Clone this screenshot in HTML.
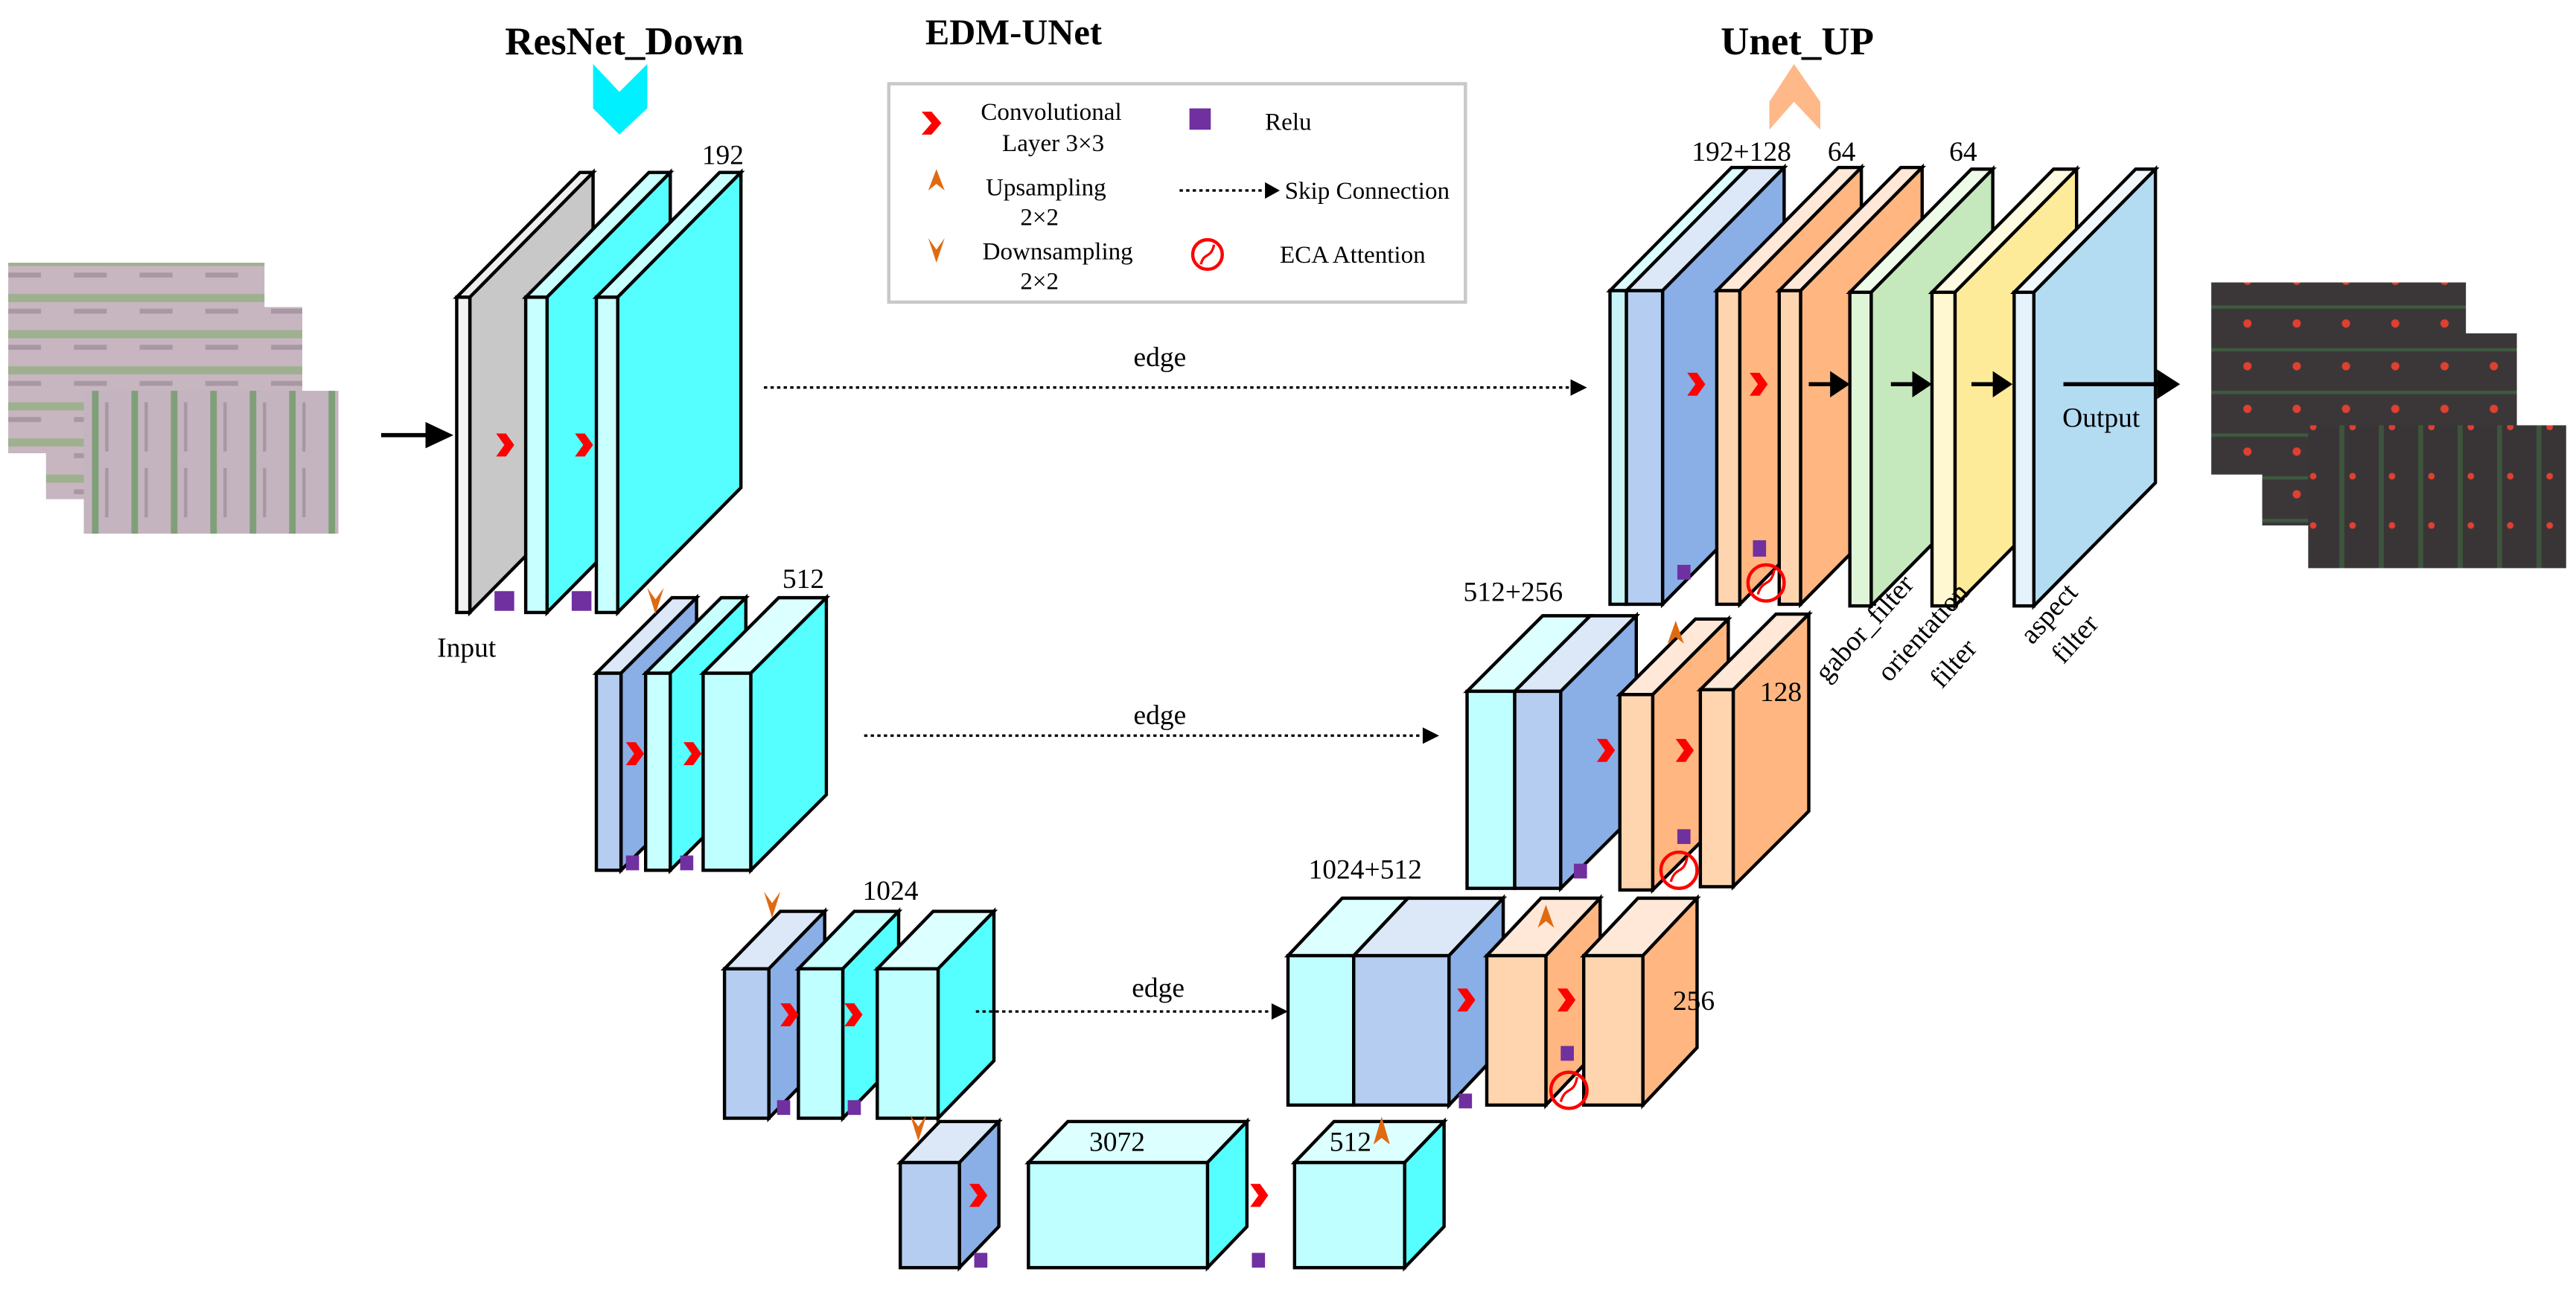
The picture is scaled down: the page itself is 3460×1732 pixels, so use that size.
<!DOCTYPE html>
<html><head><meta charset="utf-8"><style>html,body{margin:0;padding:0;background:#fff}svg{display:block}</style></head>
<body>
<svg width="3460" height="1732" viewBox="0 0 1568 785" preserveAspectRatio="none" xmlns="http://www.w3.org/2000/svg" font-family="'Liberation Serif', serif">
<defs>
<pattern id="field" width="40" height="22" patternUnits="userSpaceOnUse">
<rect width="40" height="22" fill="#c7b6c0"/>
<rect x="0" y="3" width="40" height="5" fill="#8fae7e" opacity="0.7"/>
<rect x="5" y="12" width="20" height="3" fill="#a898a4"/>
</pattern>
<pattern id="field2" width="24" height="40" patternUnits="userSpaceOnUse">
<rect width="24" height="40" fill="#c4b4bf"/>
<rect x="8" y="0" width="4" height="40" fill="#6e9a66" opacity="0.8"/>
<rect x="16" y="5" width="2" height="30" fill="#a797a2"/>
</pattern>
<pattern id="dark" width="30" height="26" patternUnits="userSpaceOnUse">
<rect width="30" height="26" fill="#3b3739"/>
<rect x="0" y="4" width="30" height="2" fill="#3f5a3f"/>
<circle cx="18" cy="15" r="2.5" fill="#e04030"/>
</pattern>
<pattern id="dark2" width="24" height="30" patternUnits="userSpaceOnUse">
<rect width="24" height="30" fill="#393537"/>
<rect x="8" y="0" width="3" height="30" fill="#3d553c"/>
<circle cx="16" cy="20" r="2" fill="#e04030"/>
</pattern>
</defs>

<!-- titles -->
<text x="380" y="33" font-size="24" font-weight="bold" text-anchor="middle">ResNet_Down</text>
<text x="617" y="27" font-size="22" font-weight="bold" text-anchor="middle">EDM-UNet</text>
<text x="1094" y="33" font-size="24" font-weight="bold" text-anchor="middle">Unet_UP</text>
<polygon points="361,39 377,56 394,39 394,66 377,82 361,66" fill="#00f0ff"/>
<polygon points="1092,39 1108,62 1108,79 1092,62 1077,79 1077,62" fill="#ffb888"/>

<!-- legend -->
<rect x="541" y="51" width="351" height="133" fill="#fff" stroke="#c8c8c8" stroke-width="2"/>
<g font-size="15">
<polygon points="561,68 567,68 573,75 567,82 561,82 567,75" fill="#f00"/>
<text x="597" y="73">Convolutional</text><text x="610" y="92">Layer 3×3</text>
<rect x="724" y="66" width="13" height="13" fill="#7030a0"/>
<text x="770" y="79">Relu</text>
<polygon points="570,103 575,116 570,112 565,116" fill="#e06a10"/>
<text x="600" y="119">Upsampling</text><text x="621" y="137">2×2</text>
<line x1="718" y1="116" x2="770" y2="116" stroke="#000" stroke-width="1.5" stroke-dasharray="2,2"/>
<polygon points="770,111 779,116 770,121" fill="#000"/>
<text x="782" y="121">Skip Connection</text>
<polygon points="565,145 570,152 575,145 570,160" fill="#e06a10"/>
<text x="598" y="158">Downsampling</text><text x="621" y="176">2×2</text>
<circle cx="735" cy="155" r="9" fill="none" stroke="#f00" stroke-width="2"/>
<path d="M731,161 C733,153 737,158 739,149" fill="none" stroke="#f00" stroke-width="1.5"/>
<text x="779" y="160">ECA Attention</text>
</g>

<!-- input images -->
<rect x="5" y="160" width="156" height="116" fill="url(#field)"/>
<rect x="28" y="187" width="156" height="117" fill="url(#field)"/>
<rect x="51" y="238" width="155" height="87" fill="url(#field2)"/>
<line x1="232" y1="265" x2="262" y2="265" stroke="#000" stroke-width="2.5"/>
<polygon points="259,257 276,265 259,273" fill="#000"/>

<!-- output images -->
<rect x="1346" y="172" width="155" height="117" fill="url(#dark)"/>
<rect x="1377" y="203" width="155" height="117" fill="url(#dark)"/>
<rect x="1405" y="259" width="157" height="87" fill="url(#dark2)"/>

<g stroke="#000" stroke-width="2" stroke-linejoin="miter">
<!-- encoder level 1 (dx75 dy76) -->
<polygon points="278,181 353,105 361,105 286,181" fill="#eee"/>
<polygon points="286,181 361,105 361,297 286,373" fill="#c8c8c8"/>
<rect x="278" y="181" width="8" height="192" fill="#f2f2f2"/>
<polygon points="320,181 395,105 408,105 333,181" fill="#c8ffff"/>
<polygon points="333,181 408,105 408,297 333,373" fill="#55ffff"/>
<rect x="320" y="181" width="13" height="192" fill="#c8ffff"/>
<polygon points="363,181 438,105 451,105 376,181" fill="#c8ffff"/>
<polygon points="376,181 451,105 451,297 376,373" fill="#55ffff"/>
<rect x="363" y="181" width="13" height="192" fill="#c8ffff"/>

<!-- encoder level 2 (dx46 dy46) -->
<polygon points="363,410 409,364 424,364 378,410" fill="#dce8f8"/>
<polygon points="378,410 424,364 424,484 378,530" fill="#8aaee6"/>
<rect x="363" y="410" width="15" height="120" fill="#b4cdf0"/>
<polygon points="393,410 439,364 454,364 408,410" fill="#c8ffff"/>
<polygon points="408,410 454,364 454,484 408,530" fill="#55ffff"/>
<rect x="393" y="410" width="15" height="120" fill="#c8ffff"/>
<polygon points="428,410 474,364 503,364 457,410" fill="#dcffff"/>
<polygon points="457,410 503,364 503,484 457,530" fill="#55ffff"/>
<rect x="428" y="410" width="29" height="120" fill="#c0ffff"/>

<!-- encoder level 3 (dx34 dy35) -->
<polygon points="441,590 475,555 502,555 468,590" fill="#dce8f8"/>
<polygon points="468,590 502,555 502,646 468,681" fill="#8aaee6"/>
<rect x="441" y="590" width="27" height="91" fill="#b4cdf0"/>
<polygon points="486,590 520,555 547,555 513,590" fill="#c8ffff"/>
<polygon points="513,590 547,555 547,646 513,681" fill="#55ffff"/>
<rect x="486" y="590" width="27" height="91" fill="#c0ffff"/>
<polygon points="534,590 568,555 605,555 571,590" fill="#dcffff"/>
<polygon points="571,590 605,555 605,646 571,681" fill="#55ffff"/>
<rect x="534" y="590" width="37" height="91" fill="#c0ffff"/>

<!-- bottom -->
<polygon points="548,708 572,683 608,683 584,708" fill="#dce8f8"/>
<polygon points="584,708 608,683 608,747 584,772" fill="#8aaee6"/>
<rect x="548" y="708" width="36" height="64" fill="#b4cdf0"/>
<polygon points="626,708 650,683 759,683 735,708" fill="#dcffff"/>
<polygon points="735,708 759,683 759,747 735,772" fill="#55ffff"/>
<rect x="626" y="708" width="109" height="64" fill="#c0ffff"/>
<polygon points="788,708 812,683 879,683 855,708" fill="#dcffff"/>
<polygon points="855,708 879,683 879,747 855,772" fill="#55ffff"/>
<rect x="788" y="708" width="67" height="64" fill="#c0ffff"/>

<!-- decoder level 3 (dx33 dy35) -->
<polygon points="784,582 817,547 857,547 824,582" fill="#dcffff"/>
<rect x="784" y="582" width="40" height="91" fill="#c0ffff"/>
<polygon points="824,582 857,547 915,547 882,582" fill="#dce8f8"/>
<polygon points="882,582 915,547 915,638 882,673" fill="#8aaee6"/>
<rect x="824" y="582" width="58" height="91" fill="#b4cdf0"/>
<polygon points="905,582 938,547 974,547 941,582" fill="#ffe8d8"/>
<polygon points="941,582 974,547 974,638 941,673" fill="#ffb680"/>
<rect x="905" y="582" width="36" height="91" fill="#ffd5b0"/>
<polygon points="964,582 997,547 1033,547 1000,582" fill="#ffe8d8"/>
<polygon points="1000,582 1033,547 1033,638 1000,673" fill="#ffb680"/>
<rect x="964" y="582" width="36" height="91" fill="#ffd5b0"/>

<!-- decoder level 2 (dx46 dy46) -->
<polygon points="893,421 939,375 968,375 922,421" fill="#dcffff"/>
<rect x="893" y="421" width="29" height="120" fill="#c0ffff"/>
<polygon points="922,421 968,375 996,375 950,421" fill="#dce8f8"/>
<polygon points="950,421 996,375 996,495 950,541" fill="#8aaee6"/>
<rect x="922" y="421" width="28" height="120" fill="#b4cdf0"/>
<polygon points="986,423 1032,377 1052,377 1006,423" fill="#ffe8d8"/>
<polygon points="1006,423 1052,377 1052,496 1006,542" fill="#ffb680"/>
<rect x="986" y="423" width="20" height="119" fill="#ffd5b0"/>
<polygon points="1035,420 1081,374 1101,374 1055,420" fill="#ffe8d8"/>
<polygon points="1055,420 1101,374 1101,494 1055,540" fill="#ffb680"/>
<rect x="1035" y="420" width="20" height="120" fill="#ffd5b0"/>

<!-- decoder level 1 (dx74 dy75) -->
<polygon points="980,177 1054,102 1064,102 990,177" fill="#dcffff"/>
<rect x="980" y="177" width="10" height="191" fill="#c8f4f8"/>
<polygon points="990,177 1064,102 1086,102 1012,177" fill="#dce8f8"/>
<polygon points="1012,177 1086,102 1086,293 1012,368" fill="#8aaee6"/>
<rect x="990" y="177" width="22" height="191" fill="#b4cdf0"/>
<polygon points="1045,177 1119,102 1133,102 1059,177" fill="#ffe8d8"/>
<polygon points="1059,177 1133,102 1133,293 1059,368" fill="#ffb680"/>
<rect x="1045" y="177" width="14" height="191" fill="#ffd5b0"/>
<polygon points="1083,177 1157,102 1170,102 1096,177" fill="#ffe8d8"/>
<polygon points="1096,177 1170,102 1170,293 1096,368" fill="#ffb680"/>
<rect x="1083" y="177" width="13" height="191" fill="#ffd5b0"/>
<polygon points="1126,178 1200,103 1213,103 1139,178" fill="#eefbe8"/>
<polygon points="1139,178 1213,103 1213,294 1139,369" fill="#c5e8bd"/>
<rect x="1126" y="178" width="13" height="191" fill="#dff5d8"/>
<polygon points="1176,178 1250,103 1264,103 1190,178" fill="#fffbe0"/>
<polygon points="1190,178 1264,103 1264,294 1190,369" fill="#fdeb99"/>
<rect x="1176" y="178" width="14" height="191" fill="#fff8d0"/>
<polygon points="1226,178 1300,103 1312,103 1238,178" fill="#f0f8fd"/>
<polygon points="1238,178 1312,103 1312,294 1238,369" fill="#b3dcf3"/>
<rect x="1226" y="178" width="12" height="191" fill="#e6f2fb"/>
</g>

<!-- skip connections -->
<g stroke="#000" stroke-width="1.5" stroke-dasharray="2,2">
<line x1="465" y1="236" x2="957" y2="236"/>
<line x1="526" y1="448" x2="866" y2="448"/>
<line x1="594" y1="616" x2="774" y2="616"/>
</g>
<polygon points="956,231 966,236 956,241" fill="#000"/>
<polygon points="866,443 876,448 866,453" fill="#000"/>
<polygon points="774,611 784,616 774,621" fill="#000"/>
<g font-size="17" text-anchor="middle">
<text x="706" y="223">edge</text>
<text x="706" y="441">edge</text>
<text x="705" y="607">edge</text>
</g>

<!-- black arrows decoder top -->
<g stroke="#000" stroke-width="2.5">
<line x1="1101" y1="234" x2="1116" y2="234"/><line x1="1151" y1="234" x2="1166" y2="234"/>
<line x1="1200" y1="234" x2="1215" y2="234"/><line x1="1256" y1="234" x2="1315" y2="234"/>
</g>
<g fill="#000">
<polygon points="1114,226 1126,234 1114,242"/><polygon points="1164,226 1176,234 1164,242"/>
<polygon points="1213,226 1225,234 1213,242"/><polygon points="1313,225 1327,234 1313,243"/>
</g>

<!-- red chevrons -->
<g fill="#f00">
<polygon points="302,264 308,264 313,271 308,278 302,278 307,271"/>
<polygon points="350,264 356,264 361,271 356,278 350,278 355,271"/>
<polygon points="381,452 387,452 392,459 387,466 381,466 386,459"/>
<polygon points="416,452 422,452 427,459 422,466 416,466 421,459"/>
<polygon points="475,611 481,611 486,618 481,625 475,625 480,618"/>
<polygon points="514,611 520,611 525,618 520,625 514,625 519,618"/>
<polygon points="590,721 596,721 601,728 596,735 590,735 595,728"/>
<polygon points="761,721 767,721 772,728 767,735 761,735 766,728"/>
<polygon points="887,602 893,602 898,609 893,616 887,616 892,609"/>
<polygon points="948,602 954,602 959,609 954,616 948,616 953,609"/>
<polygon points="972,450 978,450 983,457 978,464 972,464 977,457"/>
<polygon points="1020,450 1026,450 1031,457 1026,464 1020,464 1025,457"/>
<polygon points="1027,227 1033,227 1038,234 1033,241 1027,241 1032,234"/>
<polygon points="1065,227 1071,227 1076,234 1071,241 1065,241 1070,234"/>
</g>

<!-- purple squares -->
<g fill="#7030a0">
<rect x="301" y="360" width="12" height="12"/><rect x="348" y="360" width="12" height="12"/>
<rect x="381" y="521" width="8" height="9"/><rect x="414" y="521" width="8" height="9"/>
<rect x="473" y="670" width="8" height="9"/><rect x="516" y="670" width="8" height="9"/>
<rect x="593" y="763" width="8" height="9"/><rect x="762" y="763" width="8" height="9"/>
<rect x="888" y="666" width="8" height="9"/><rect x="950" y="637" width="8" height="9"/>
<rect x="958" y="526" width="8" height="9"/><rect x="1021" y="505" width="8" height="9"/>
<rect x="1021" y="344" width="8" height="9"/><rect x="1067" y="329" width="8" height="10"/>
</g>

<!-- ECA circles -->
<g fill="none" stroke="#f00" stroke-width="2">
<circle cx="1075" cy="355" r="11"/><path d="M1070,362 C1073,352 1078,358 1080,347" stroke-width="1.5"/>
<circle cx="1022" cy="530" r="11"/><path d="M1017,537 C1020,527 1025,533 1027,522" stroke-width="1.5"/>
<circle cx="955" cy="664" r="11"/><path d="M950,671 C953,661 958,667 960,656" stroke-width="1.5"/>
</g>

<!-- orange up/down chevrons -->
<g fill="#e06a10">
<polygon points="394,358 399,365 404,358 399,374"/>
<polygon points="465,543 470,550 475,543 470,559"/>
<polygon points="554,679 559,686 564,679 559,695"/>
<polygon points="1020,378 1025,392 1020,388 1015,392"/>
<polygon points="941,551 946,565 941,561 936,565"/>
<polygon points="841,680 846,697 841,693 836,697"/>
</g>

<!-- labels -->
<g font-size="17">
<text x="440" y="100" text-anchor="middle">192</text>
<text x="489" y="358" text-anchor="middle">512</text>
<text x="542" y="548" text-anchor="middle">1024</text>
<text x="680" y="701" text-anchor="middle">3072</text>
<text x="822" y="701" text-anchor="middle">512</text>
<text x="831" y="535" text-anchor="middle">1024+512</text>
<text x="1031" y="615" text-anchor="middle">256</text>
<text x="921" y="366" text-anchor="middle">512+256</text>
<text x="1084" y="427" text-anchor="middle">128</text>
<text x="1060" y="98" text-anchor="middle">192+128</text>
<text x="1121" y="98" text-anchor="middle">64</text>
<text x="1195" y="98" text-anchor="middle">64</text>
<text x="284" y="400" text-anchor="middle">Input</text>
<text x="1279" y="260" text-anchor="middle">Output</text>
<text transform="translate(1112,416) rotate(-48)">gabor_filter</text>
<text transform="translate(1150,416) rotate(-48)">orientation</text>
<text transform="translate(1182,420) rotate(-48)">filter</text>
<text transform="translate(1237,393) rotate(-48)">aspect</text>
<text transform="translate(1256,405) rotate(-48)">filter</text>
</g>
</svg>
</body></html>
